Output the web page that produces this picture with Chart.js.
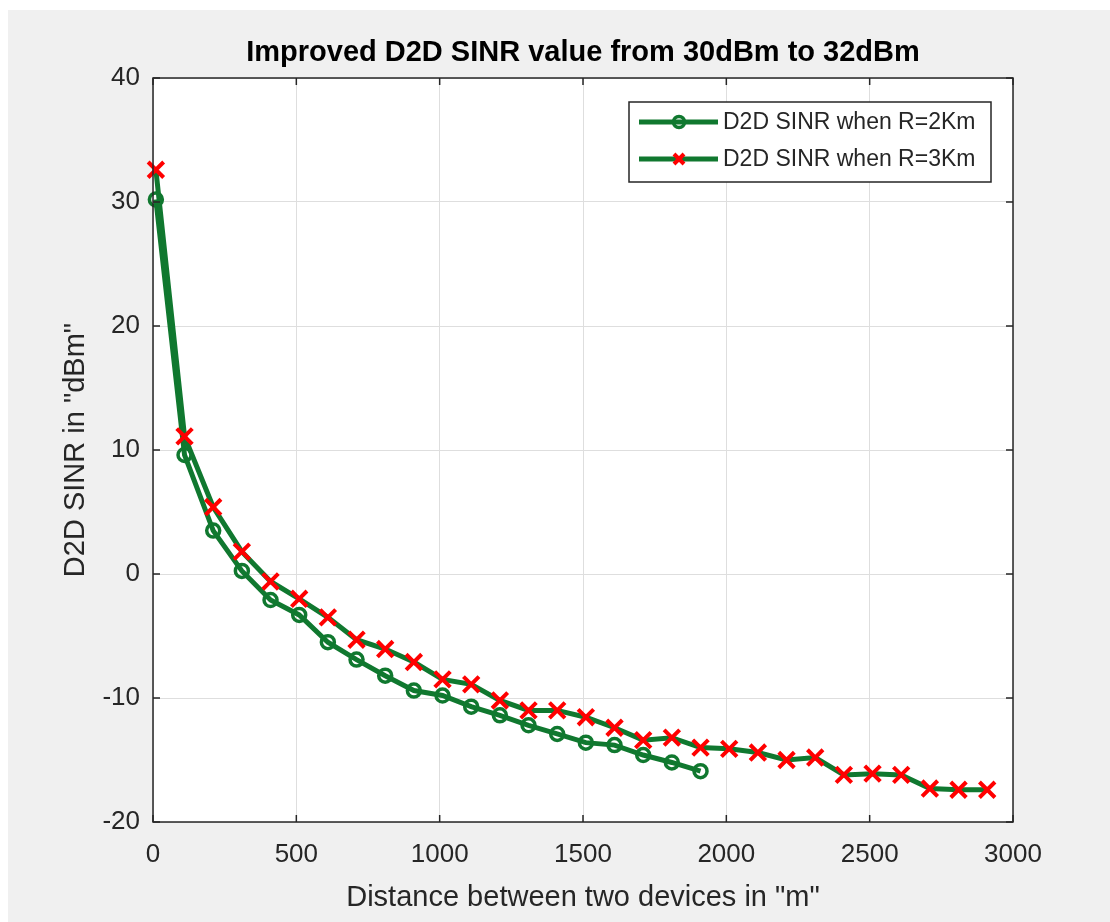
<!DOCTYPE html>
<html><head><meta charset="utf-8">
<script src="https://cdn.jsdelivr.net/npm/chart.js@4/dist/chart.umd.min.js"></script>
<style>html,body{margin:0;padding:0;background:#fff;}canvas{display:block;}</style>
</head><body>
<canvas id="c" width="1110" height="922"></canvas>
<script>
// ---- data ----
const chartTitle = 'Improved D2D SINR value from 30dBm to 32dBm';
const xAxisTitle = 'Distance between two devices in "m"';
const yAxisTitle = 'D2D SINR in "dBm"';
const seriesLabels = ['D2D SINR when R=2Km', 'D2D SINR when R=3Km'];
const distanceR2 = [10,110,210,310,410,510,610,710,810,910,1010,1110,1210,1310,1410,1510,1610,1710,1810,1910];
const sinrR2 = [30.2,9.6,3.5,0.25,-2.1,-3.3,-5.5,-6.9,-8.2,-9.4,-9.8,-10.7,-11.4,-12.2,-12.9,-13.6,-13.8,-14.6,-15.2,-15.9];
const distanceR3 = [10,110,210,310,410,510,610,710,810,910,1010,1110,1210,1310,1410,1510,1610,1710,1810,1910,2010,2110,2210,2310,2410,2510,2610,2710,2810,2910];
const sinrR3 = [32.6,11.1,5.4,1.8,-0.6,-2.0,-3.5,-5.3,-6.05,-7.1,-8.5,-8.9,-10.2,-11.0,-11.0,-11.55,-12.4,-13.4,-13.2,-14.0,-14.1,-14.4,-15.0,-14.8,-16.2,-16.1,-16.2,-17.3,-17.4,-17.4];
const xTickValues = [0,500,1000,1500,2000,2500,3000];
const yTickValues = [-20,-10,0,10,20,30,40];

// ---- styles ----
const FONT = "'Liberation Sans', Arial, Helvetica, sans-serif";
const GREEN = '#10782f';
const RED = '#ff0000';
const AXIS = '#262626';

const bgPlugin = {
  id: 'bg',
  beforeDraw(chart) {
    const {ctx, chartArea: a} = chart;
    ctx.save();
    ctx.fillStyle = '#ffffff';
    ctx.fillRect(0, 0, chart.width, chart.height);
    ctx.fillStyle = '#f0f0f0';
    ctx.fillRect(8, 10, chart.width - 8, chart.height - 10);
    ctx.fillStyle = '#ffffff';
    ctx.fillRect(a.left, a.top, a.right - a.left, a.bottom - a.top);
    ctx.restore();
  }
};

const titlePlugin = {
  id: 'centeredTitle',
  afterDraw(chart) {
    const {ctx, chartArea: a} = chart;
    ctx.save();
    ctx.fillStyle = '#000000';
    ctx.font = 'bold 29px ' + FONT;
    ctx.textAlign = 'center';
    ctx.textBaseline = 'alphabetic';
    ctx.fillText(chartTitle, (a.left + a.right) / 2, 61);
    ctx.restore();
  }
};

const boxPlugin = {
  id: 'box',
  afterDraw(chart) {
    const {ctx, chartArea: a, scales} = chart;
    ctx.save();
    ctx.strokeStyle = AXIS;
    ctx.lineWidth = 1.5;
    ctx.beginPath();
    const tl = 7;
    scales.x.ticks.forEach(t => {
      const px = scales.x.getPixelForValue(t.value);
      ctx.moveTo(px, a.bottom); ctx.lineTo(px, a.bottom - tl);
      ctx.moveTo(px, a.top); ctx.lineTo(px, a.top + tl);
    });
    scales.y.ticks.forEach(t => {
      const py = scales.y.getPixelForValue(t.value);
      ctx.moveTo(a.left, py); ctx.lineTo(a.left + tl, py);
      ctx.moveTo(a.right, py); ctx.lineTo(a.right - tl, py);
    });
    ctx.stroke();
    ctx.strokeRect(a.left, a.top, a.right - a.left, a.bottom - a.top);
    ctx.restore();
  }
};

const legendPlugin = {
  id: 'matlabLegend',
  afterDraw(chart) {
    const {ctx} = chart;
    const bx = 629, by = 102, bw = 362, bh = 80;
    ctx.save();
    ctx.fillStyle = '#ffffff';
    ctx.fillRect(bx, by, bw, bh);
    ctx.strokeStyle = AXIS;
    ctx.lineWidth = 1.5;
    ctx.strokeRect(bx, by, bw, bh);
    const rows = [122, 159];
    chart.data.datasets.forEach((ds, i) => {
      const y = rows[i];
      ctx.strokeStyle = ds.borderColor;
      ctx.lineWidth = ds.borderWidth;
      ctx.beginPath();
      ctx.moveTo(639, y); ctx.lineTo(718, y);
      ctx.stroke();
      ctx.strokeStyle = ds.pointBorderColor;
      ctx.lineWidth = ds.pointBorderWidth;
      ctx.beginPath();
      if (ds.pointStyle === 'circle') {
        ctx.arc(679, y, 5.5, 0, Math.PI * 2);
      } else {
        const r = 5;
        ctx.moveTo(679 - r, y - r); ctx.lineTo(679 + r, y + r);
        ctx.moveTo(679 + r, y - r); ctx.lineTo(679 - r, y + r);
      }
      ctx.stroke();
      ctx.fillStyle = AXIS;
      ctx.font = '23px ' + FONT;
      ctx.textBaseline = 'middle';
      ctx.textAlign = 'left';
      ctx.fillText(ds.label, 723, y + 1);
    });
    ctx.restore();
  }
};

const ds2 = {
  label: seriesLabels[0],
  data: distanceR2.map((d, i) => ({x: d, y: sinrR2[i]})),
  borderColor: GREEN,
  borderWidth: 5,
  pointStyle: 'circle',
  pointRadius: 6.5,
  pointBorderWidth: 3.5,
  pointBorderColor: GREEN,
  pointBackgroundColor: 'rgba(0,0,0,0)',
  tension: 0,
  clip: false,
  order: 1
};
const ds3 = {
  label: seriesLabels[1],
  data: distanceR3.map((d, i) => ({x: d, y: sinrR3[i]})),
  borderColor: GREEN,
  borderWidth: 5,
  pointStyle: 'crossRot',
  pointRadius: 11,
  pointBorderWidth: 4,
  pointBorderColor: RED,
  pointBackgroundColor: RED,
  tension: 0,
  clip: false,
  order: 0
};

new Chart(document.getElementById('c'), {
  type: 'line',
  data: {datasets: [ds2, ds3]},
  plugins: [bgPlugin, boxPlugin, legendPlugin, titlePlugin],
  options: {
    responsive: false,
    animation: false,
    devicePixelRatio: 1,
    layout: {padding: {left: 0, right: 97, top: 78, bottom: 0}},
    plugins: {
      legend: {display: false},
      tooltip: {enabled: false},
      title: {display: false}
    },
    scales: {
      x: {
        type: 'linear',
        min: 0, max: 3000,
        afterBuildTicks(scale) { scale.ticks = xTickValues.map(v => ({value: v})); },
        afterFit(scale) { scale.height = 100; },
        grid: {color: '#dedede', lineWidth: 1, drawTicks: false},
        border: {display: false},
        ticks: {color: AXIS, font: {family: FONT, size: 26}, padding: 17, maxRotation: 0,
          callback: v => String(v)},
        title: {display: true, text: xAxisTitle, color: AXIS,
          font: {family: FONT, size: 29, lineHeight: 1.2}, padding: {top: 0, bottom: 6.6}}
      },
      y: {
        type: 'linear',
        min: -20, max: 40,
        afterBuildTicks(scale) { scale.ticks = yTickValues.map(v => ({value: v})); },
        afterFit(scale) { scale.width = 153; },
        grid: {color: '#dedede', lineWidth: 1, drawTicks: false},
        border: {display: false},
        ticks: {color: AXIS, font: {family: FONT, size: 26}, padding: 13,
          callback: v => String(v)},
        title: {display: true, text: yAxisTitle, color: AXIS,
          font: {family: FONT, size: 29, lineHeight: 1.2}, padding: {top: 58.6, bottom: 0}}
      }
    }
  }
});
</script>
</body></html>
